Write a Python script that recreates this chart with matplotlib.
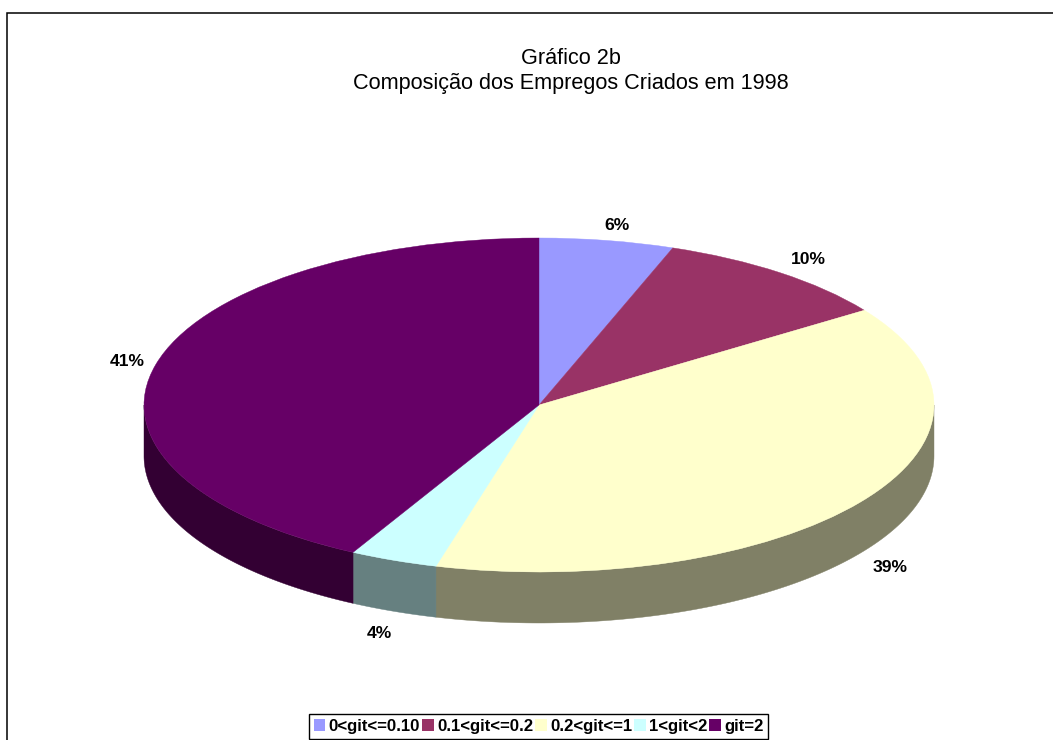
import numpy as np
import matplotlib
matplotlib.use("Agg")
import matplotlib.pyplot as plt
from matplotlib.patches import Rectangle

plt.rcParams['font.family'] = ['Liberation Sans', 'DejaVu Sans']

categories = ['0<git<=0.10', '0.1<git<=0.2', '0.2<git<=1', '1<git<2', 'git=2']
shares = [5.5, 9.9, 38.8, 3.6, 42.2]
share_labels = ['6%', '10%', '39%', '4%', '41%']
colors = ['#9999FF', '#993366', '#FFFFCC', '#CCFFFF', '#660066']
wall_colors = ['#4D4D80', '#4D1A33', '#808066', '#668080', '#330033']
title_lines = ['Gráfico 2b', 'Composição dos Empregos Criados em 1998']

W, H = 1053, 740
CX, CY, RX, RY, DEPTH = 539, 405, 395, 167, 51


def px(x, y):
    return x / W, 1 - y / H


fig = plt.figure(figsize=(W / 100, H / 100), dpi=100, facecolor='white')
ax = fig.add_axes([0, 0, 1, 1])

wedges, _ = ax.pie(shares, colors=colors, startangle=90, counterclock=False,
                   radius=1, wedgeprops=dict(linewidth=0.3, zorder=3))
for w in wedges:
    w.set_edgecolor(w.get_facecolor())
ax.set_aspect('auto')
ax.set_xlim(-CX / RX, (W - CX) / RX)
ax.set_ylim((CY - H) / RY, CY / RY)
ax.axis('off')

# side walls: visible lower half of the rim, following each slice's angles
depth = DEPTH / RY
edges = np.cumsum([0] + shares) / sum(shares) * 2 * np.pi
for a0, a1, wc in zip(edges[:-1], edges[1:], wall_colors):
    lo, hi = max(a0, np.pi / 2), min(a1, 3 * np.pi / 2)
    if hi <= lo:
        continue
    t = np.linspace(lo, hi, 120)
    x, y = np.sin(t), np.cos(t)
    ax.fill(np.r_[x, x[::-1]], np.r_[y, y[::-1] - depth], color=wc, lw=0.3, zorder=2)

# chart area border, running off the right and bottom of the picture
fig.add_artist(Rectangle(px(7, 760), (W + 20) / W, (760 - 13) / H, fill=False,
                         edgecolor='black', linewidth=1.1,
                         transform=fig.transFigure))

fig.text(*px(571, 58.5), title_lines[0], fontsize=15.6, ha='center', va='center')
fig.text(*px(571, 83.5), title_lines[1], fontsize=15.6, ha='center', va='center')

label_pos = [(617, 225), (808, 259), (890, 567), (379, 633), (127, 362)]
for s, (lx, ly) in zip(share_labels, label_pos):
    fig.text(*px(lx, ly), s, fontsize=12.6, fontweight='bold', ha='center', va='center')

leg = fig.legend(wedges, categories, ncol=5, loc='center',
                 bbox_to_anchor=px(538.5, 726.5), fancybox=False, framealpha=1,
                 edgecolor='black', prop=dict(size=12.1, weight='bold'),
                 handlelength=0.7, handleheight=0.7, handletextpad=0.2,
                 columnspacing=0.1, borderpad=0.3, borderaxespad=0)
leg.get_frame().set_linewidth(1.0)
for h in leg.legend_handles:
    h.set_linewidth(0)

fig.savefig('out.png', dpi=100)
